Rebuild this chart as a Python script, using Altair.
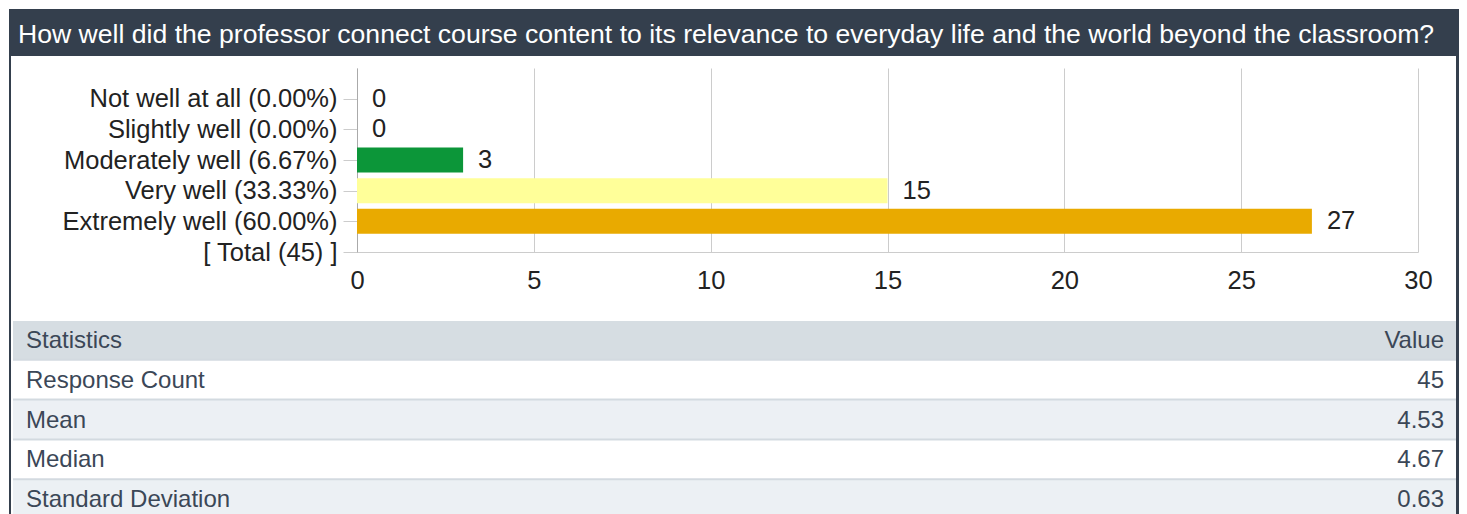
import altair as alt
import pandas as pd

TITLE = "How well did the professor connect course content to its relevance to everyday life and the world beyond the classroom?"

categories = [
    "Not well at all (0.00%)",
    "Slightly well (0.00%)",
    "Moderately well (6.67%)",
    "Very well (33.33%)",
    "Extremely well (60.00%)",
    "[ Total (45) ]",
]
counts = [0, 0, 3, 15, 27]
bar_colors = ["#dc3912", "#ff9900", "#0c9639", "#ffff99", "#e9aa00"]
x_ticks = [0, 5, 10, 15, 20, 25, 30]

stat_rows = ["Statistics", "Response Count", "Mean", "Median", "Standard Deviation"]
stat_values = ["Value", "45", "4.53", "4.67", "0.63"]
row_fills = ["#d6dde2", "#ffffff", "#ecf0f4", "#ffffff", "#ecf0f4"]

FONT = "Liberation Sans"
DARK = "#343f4d"
TXT = "#3b4757"
# all panels share the plot origin; box edges are given relative to it
BOX_L = -348
BOX_R = 1102
HEAD_H = 47
PLOT_W = 1061
PLOT_H = 184
TAB_H = 197

one = pd.DataFrame({"t": [TITLE]})
edge_df = pd.DataFrame({"k": [0]})

# ---------- header ----------
header_bg = alt.Chart(edge_df).mark_rect(color=DARK).encode(
    x=alt.value(BOX_L), x2=alt.value(BOX_R), y=alt.value(0), y2=alt.value(HEAD_H)
)
header_txt = alt.Chart(one).mark_text(
    align="left", baseline="middle", color="white", fontSize=26.6, font=FONT
).encode(x=alt.value(BOX_L + 9), y=alt.value(25.5), text="t:N")
header = alt.layer(header_bg, header_txt).properties(width=PLOT_W, height=HEAD_H)

# ---------- bar chart ----------
bars_df = pd.DataFrame({"cat": categories[:5], "n": counts, "c": bar_colors})

yenc = alt.Y(
    "cat:N",
    sort=categories,
    scale=alt.Scale(type="point", domain=categories, padding=0.5, align=1),
    axis=alt.Axis(
        title=None, labelFontSize=25.5, labelFont=FONT, labelColor="#222222",
        tickSize=14, tickColor="#cccccc", domainColor="#aaaaaa",
        labelPadding=6, grid=False, labelLimit=0,
    ),
)
xenc = alt.X(
    "n:Q",
    scale=alt.Scale(domain=[0, 30], nice=False),
    axis=alt.Axis(
        title=None, values=x_ticks, tickSize=0, labelPadding=16, labelFlush=False,
        labelFontSize=25.5, labelFont=FONT, labelColor="#222222",
        grid=True, gridColor="#cccccc", domainColor="#cccccc", format="d",
    ),
)
bars = alt.Chart(bars_df).mark_bar(size=25).encode(
    x=xenc, y=yenc, color=alt.Color("c:N", scale=None)
)
vals = alt.Chart(bars_df).mark_text(
    align="left", baseline="middle", dx=15, fontSize=25.5, font=FONT, color="#222222"
).encode(x=xenc, y=yenc, text="n:Q")

left_edge = alt.Chart(edge_df).mark_rect(color=DARK).encode(
    x=alt.value(BOX_L), x2=alt.value(BOX_L + 2), y=alt.value(-12), y2=alt.value(PLOT_H + 69)
)
right_edge = alt.Chart(edge_df).mark_rect(color=DARK).encode(
    x=alt.value(BOX_R - 3), x2=alt.value(BOX_R), y=alt.value(-12), y2=alt.value(PLOT_H + 69)
)
barpanel = alt.layer(left_edge, right_edge, bars, vals).properties(
    width=PLOT_W, height=PLOT_H
)

# ---------- statistics table ----------
tab_df = pd.DataFrame({"row": stat_rows, "val": stat_values, "fill": row_fills})
yrow = alt.Y(
    "row:N", sort=stat_rows, axis=None,
    scale=alt.Scale(domain=stat_rows, paddingInner=0.05, paddingOuter=0),
)
tab_bg = alt.Chart(edge_df).mark_rect(color="#d3dae0").encode(
    x=alt.value(BOX_L + 4), x2=alt.value(BOX_R - 3), y=alt.value(0), y2=alt.value(TAB_H)
)
tab_rows = alt.Chart(tab_df).mark_rect().encode(
    x=alt.value(BOX_L + 4), x2=alt.value(BOX_R - 3), y=yrow,
    color=alt.Color("fill:N", scale=None),
)
tab_lab = alt.Chart(tab_df).mark_text(
    align="left", baseline="middle", fontSize=24, font=FONT, color=TXT, dy=1
).encode(x=alt.value(BOX_L + 17), y=yrow, text="row:N")
tab_val = alt.Chart(tab_df).mark_text(
    align="right", baseline="middle", fontSize=24, font=FONT, color=TXT, dy=1
).encode(x=alt.value(BOX_R - 15), y=yrow, text="val:N")
tab_l = alt.Chart(edge_df).mark_rect(color=DARK).encode(
    x=alt.value(BOX_L), x2=alt.value(BOX_L + 2), y=alt.value(0), y2=alt.value(TAB_H)
)
tab_r = alt.Chart(edge_df).mark_rect(color=DARK).encode(
    x=alt.value(BOX_R - 3), x2=alt.value(BOX_R), y=alt.value(0), y2=alt.value(TAB_H)
)
table = alt.layer(tab_bg, tab_rows, tab_lab, tab_val, tab_l, tab_r).properties(
    width=PLOT_W, height=TAB_H
)

chart = (
    alt.vconcat(header, barpanel, table, spacing=0)
    .properties(padding={"left": 1, "top": 1, "right": 0, "bottom": 0}, background="white")
    .configure_view(stroke=None)
)
chart.save("out.html", embed_options={"renderer": "svg", "actions": False})
